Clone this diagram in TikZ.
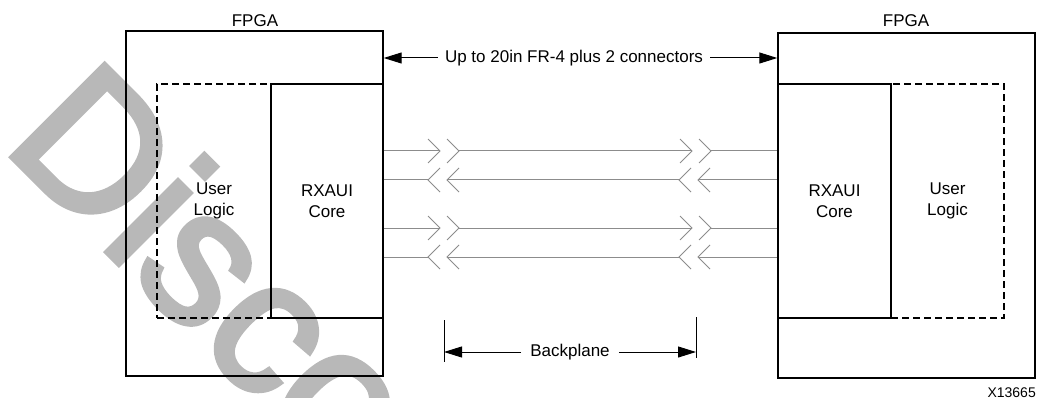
\documentclass[tikz,border=0pt]{standalone}
\usepackage{fontspec}
\setmainfont{Liberation Sans}
\newfontfamily\wmfont[FakeBold=3]{Liberation Sans}
\usetikzlibrary{arrows.meta,calc}
\begin{document}
\begin{tikzpicture}[x=1pt,y=-1pt,
  box/.style={draw=black,line width=1.4pt,inner sep=0pt,align=center,font=\fontsize{17}{21}\selectfont},
  ulbox/.style={box,dash pattern=on 7pt off 4pt},
  sig/.style={draw=black!45,line width=1pt},
  lbl/.style={font=\fontsize{17}{21}\selectfont,align=center},
  dimarrow/.style={line width=1pt,-{Triangle[length=18pt,width=11pt]}},
  bar/.style={line width=1pt},
  ]
\useasboundingbox (0,0) rectangle (1038,398);
% watermark
\begin{scope}
\clip (0,0) rectangle (1038,398);
\node[anchor=base west,rotate=-45,inner sep=0pt,text=black!28,font=\wmfont\fontsize{190}{190}\selectfont] (wm) at (1,146) {Discontinued};
\end{scope}
% left FPGA
\node[box,minimum width=257pt,minimum height=345pt] (lfpga) at (254.5,203.5) {};
\node[ulbox,minimum width=114pt,minimum height=234pt] (lul) at (214,201) {User\\Logic};
\node[box,minimum width=112pt,minimum height=234pt] (lcore) at (327,201) {RXAUI\\Core};
\node[lbl,anchor=base] (lfl) at (255,27) {FPGA};
% right FPGA
\node[box,minimum width=257pt,minimum height=345pt] (rfpga) at (906.5,205.5) {};
\node[ulbox,minimum width=113pt,minimum height=234pt] (rul) at (947.5,201) {User\\Logic};
\node[box,minimum width=113pt,minimum height=234pt] (rcore) at (834.5,201) {RXAUI\\Core};
\node[lbl,anchor=base] (rfl) at (906,27) {FPGA};
% top span
\node[lbl,inner sep=7pt] (span) at (574,58) {Up to 20in FR-4 plus 2 connectors};
\draw[dimarrow] (span.west) -- (lfpga.east |- span.west);
\draw[dimarrow] (span.east) -- (rfpga.west |- span.east);
% signal lines, rightward
\foreach \y in {151,228} {
  \draw[sig] (lcore.east |- 0,\y) -- (440,\y) (459,\y) -- (692,\y) (711,\y) -- (rcore.west |- 0,\y);
  \foreach \t in {440,459,692,711}
    \draw[sig] (\t-12,\y-12) -- (\t,\y) -- (\t-12,\y+12);
}
% signal lines, leftward
\foreach \y in {180,257} {
  \draw[sig] (lcore.east |- 0,\y) -- (428,\y) (447,\y) -- (679,\y) (698,\y) -- (rcore.west |- 0,\y);
  \foreach \t in {428,447,679,698}
    \draw[sig] (\t+12,\y-12) -- (\t,\y) -- (\t+12,\y+12);
}
% backplane
\coordinate (bpl) at (444,352);
\coordinate (bpr) at (696,352);
\draw[bar] (444,320) -- (444,362);
\draw[bar] (696,317) -- (696,358);
\node[lbl,inner sep=9pt] (bp) at (570,352) {Backplane};
\draw[dimarrow] (bp.west) -- (bpl);
\draw[dimarrow] (bp.east) -- (bpr);
% figure number
\node[anchor=base east,inner sep=0pt,font=\fontsize{14}{14}\selectfont] (fig) at (1036,397) {X13665};
\end{tikzpicture}
\end{document}
